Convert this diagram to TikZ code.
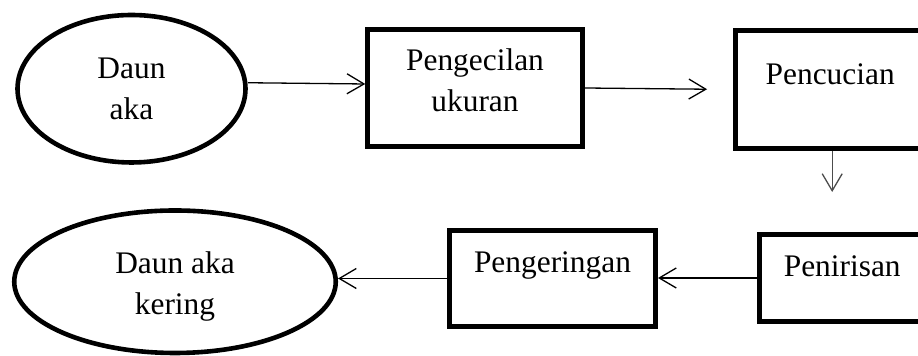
\documentclass[tikz,border=0pt]{standalone}
\usepackage{fontspec}
\setmainfont{Liberation Serif}
\usetikzlibrary{shapes.geometric,arrows.meta}
\begin{document}
\begin{tikzpicture}[x=0.5pt,y=-0.5pt,
  font=\fontsize{15.7}{20.5}\selectfont,
  box/.style={draw,line width=2.5pt,align=center,text height=10.5pt},
  oval/.style={draw,ellipse,line width=2.3pt,align=center},
  arr/.style={-{Straight Barb[length=8.5pt,width=10pt]},line width=0.65pt}]
  \clip (0,0) rectangle (918,356);
  \node[oval,minimum width=114pt,minimum height=73.75pt,text height=31.25pt,text depth=0pt] (daun) at (131.5,88.75) {Daun\\aka};
  \node[box,minimum width=107.25pt,minimum height=58.5pt,text height=31pt,text depth=7.3pt] (kecil) at (475,88) {Pengecilan\\ukuran};
  \node[box,minimum width=94.85pt,minimum height=59pt,text depth=15pt] (cuci) at (830.2,89.5) {Pencucian};
  \node[box,minimum width=82.75pt,minimum height=43.5pt,text depth=11.8pt] (tiris) at (842.25,278) {Penirisan};
  \node[box,minimum width=103pt,minimum height=48pt,text depth=16pt] (kering) at (552.5,278.5) {Pengeringan};
  \node[oval,minimum width=160.75pt,minimum height=71.25pt,text height=33.25pt,text depth=0pt] (done) at (175,281.75) {Daun aka\\kering};
  \draw[arr] ([yshift=3pt]daun.east) -- ([yshift=2pt]kecil.west);
  \draw[arr,shorten >=12.9pt] (kecil.east) -- (cuci.west);
  \draw[arr,black!70,shorten >=20pt] ([xshift=1pt]cuci.south) -- ([xshift=1pt]cuci.south |- tiris.north);
  \draw[arr] (tiris.west) -- (tiris.west -| kering.east);
  \draw[arr] (kering.west) -- (kering.west -| done.east);
\end{tikzpicture}
\end{document}
